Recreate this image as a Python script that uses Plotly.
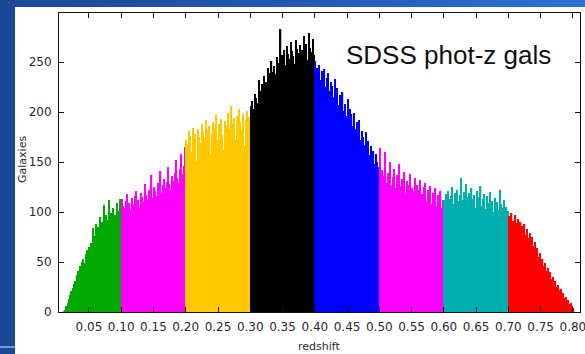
import base64
import plotly.graph_objects as go

# Histogram of photometric-redshift galaxy counts, 0.002-wide bins,
# split into redshift slices that are coloured separately.
BIN = 0.002

slice_starts = [0.010, 0.100, 0.200, 0.300, 0.400, 0.500, 0.600, 0.700]
slice_colors = ["#00a800", "#ff00ff", "#ffc800", "#000000",
                "#0000ff", "#ff00ff", "#00b0b0", "#ff0000"]

green = [1, 2, 6, 9, 13, 17, 21, 24, 28, 31, 37, 41, 39, 46, 50,
         53, 49, 58, 62, 56, 65, 69, 63, 84, 76, 88, 80, 85, 95, 83,
         90, 107, 88, 97, 92, 112, 86, 99, 104, 93, 97, 109, 90, 101, 113]
magenta_lo = [113, 106, 104, 111, 118, 105, 109, 102, 114, 108,
              116, 121, 107, 112, 104, 119, 115, 110, 128, 117,
              113, 122, 118, 137, 114, 125, 121, 116, 129, 123,
              141, 119, 127, 133, 124, 130, 145, 128, 122, 136,
              131, 139, 152, 134, 129, 143, 158, 138, 146, 165]
yellow = [172, 168, 181, 176, 160, 184, 171, 178, 151, 183,
          175, 169, 188, 180, 174, 192, 165, 182, 186, 158,
          179, 190, 184, 197, 172, 188, 181, 193, 177, 162,
          191, 186, 199, 183, 179, 206, 188, 194, 172, 196,
          185, 203, 190, 181, 198, 166, 192, 201, 187, 195]
black = [206, 211, 203, 218, 214, 209, 232, 221, 216, 228,
         236, 225, 230, 244, 233, 239, 251, 240, 246, 238,
         255, 249, 243, 283, 257, 250, 262, 247, 266, 258,
         253, 270, 261, 256, 248, 272, 263, 259, 267, 254,
         262, 276, 258, 268, 252, 279, 264, 260, 273, 257]
blue = [251, 244, 238, 247, 232, 241, 236, 243, 225, 234,
        239, 221, 230, 226, 215, 233, 219, 224, 207, 217,
        212, 220, 201, 208, 196, 213, 192, 203, 198, 186,
        199, 183, 190, 178, 192, 172, 181, 175, 167, 180,
        164, 171, 157, 166, 152, 161, 148, 158, 150, 145]
magenta_hi = [164, 131, 142, 136, 160, 129, 139, 133, 150, 127,
              135, 143, 124, 137, 131, 148, 126, 133, 122, 140,
              119, 131, 127, 138, 117, 124, 121, 134, 115, 127,
              122, 132, 113, 118, 125, 129, 111, 122, 116, 126,
              108, 119, 114, 124, 106, 117, 110, 121, 104, 112]
cyan = [112, 118, 109, 121, 113, 116, 125, 108, 119, 114,
        122, 111, 117, 134, 112, 120, 107, 128, 115, 119,
        110, 124, 113, 117, 104, 121, 111, 115, 126, 106,
        113, 118, 103, 116, 109, 120, 105, 111, 100, 114,
        107, 110, 102, 122, 108, 104, 112, 99, 105, 101]
red = [96, 88, 99, 91, 85, 97, 89, 93, 84, 90,
       86, 80, 88, 77, 83, 74, 79, 70, 75, 66,
       70, 61, 64, 55, 59, 50, 53, 46, 49, 41,
       44, 37, 40, 33, 35, 29, 31, 25, 27, 22,
       23, 18, 19, 14, 15, 11, 12, 8, 9, 6, 4]

slice_counts = [green, magenta_lo, yellow, black, blue, magenta_hi, cyan, red]

x_ticks = [0.05, 0.10, 0.15, 0.20, 0.25, 0.30, 0.35, 0.40,
           0.45, 0.50, 0.55, 0.60, 0.65, 0.70, 0.75, 0.80]
y_ticks = [0, 50, 100, 150, 200, 250]

W, H = 585, 354
L, R, T, B = 59, 5, 13, 42
PW, PH = W - L - R, H - T - B

fig = go.Figure()
for start, color, counts in zip(slice_starts, slice_colors, slice_counts):
    centers = [start + (i + 0.5) * BIN for i in range(len(counts))]
    fig.add_trace(go.Bar(
        x=centers, y=counts, width=BIN,
        marker=dict(color=color, line=dict(width=0)),
        showlegend=False, hoverinfo="x+y",
    ))

# slide background: blue frame with a white panel
svg = f"""<svg xmlns='http://www.w3.org/2000/svg' width='{W}' height='{H}'>
<defs><linearGradient id='g' x1='0' x2='1' y1='0' y2='0'>
<stop offset='0' stop-color='#1b4896'/><stop offset='0.5' stop-color='#2158b4'/>
<stop offset='1' stop-color='#2e72d2'/></linearGradient></defs>
<rect width='{W}' height='{H}' fill='white'/>
<rect width='{W}' height='7' fill='url(#g)'/>
<rect width='15' height='{H}' fill='#1b4896'/>
<rect x='0' y='346' width='15' height='2' fill='#6f9bd6'/>
</svg>"""
src = "data:image/svg+xml;base64," + base64.b64encode(svg.encode()).decode()

tick_font = dict(family="DejaVu Sans", size=12, color="#2a2a2a")

axis_common = dict(
    ticks="inside", ticklen=5, tickcolor="#111", mirror="ticks",
    showline=True, linecolor="#111", linewidth=1,
    showgrid=False, zeroline=False, tickfont=tick_font,
    ticklabelstandoff=4, ticklabeloverflow="allow", automargin=False,
)

fig.update_layout(
    width=W, height=H,
    margin=dict(l=L, r=R, t=T, b=B, pad=0, autoexpand=False),
    paper_bgcolor="white",
    plot_bgcolor="rgba(0,0,0,0)",
    barmode="overlay",
    images=[dict(source=src, xref="paper", yref="paper",
                 x=-L / PW, y=1 + T / PH, sizex=W / PW, sizey=H / PH,
                 xanchor="left", yanchor="top", sizing="stretch",
                 layer="below")],
    xaxis=dict(range=[0.0036, 0.811], tickvals=x_ticks, tickformat=".2f",
               **axis_common),
    yaxis=dict(range=[0, 299], tickvals=y_ticks, **axis_common),
    annotations=[
        dict(text="Galaxies", xref="paper", yref="paper",
             x=(22 - L) / PW, y=1 - (160 - T) / PH, textangle=-90,
             showarrow=False, xanchor="center", yanchor="middle",
             font=dict(family="DejaVu Sans", size=11, color="#2a2a2a")),
        dict(text="redshift", xref="paper", yref="paper",
             x=(319 - L) / PW, y=1 - (346 - T) / PH,
             showarrow=False, xanchor="center", yanchor="middle",
             font=dict(family="DejaVu Sans", size=11, color="#2a2a2a")),
        dict(text="SDSS phot-z gals", xref="paper", yref="paper",
             x=(344 - L) / PW, y=1 - (55 - T) / PH,
             showarrow=False, xanchor="left", yanchor="middle",
             font=dict(family="Liberation Sans", size=26, color="#111")),
    ],
)

fig.write_html("out.html")
